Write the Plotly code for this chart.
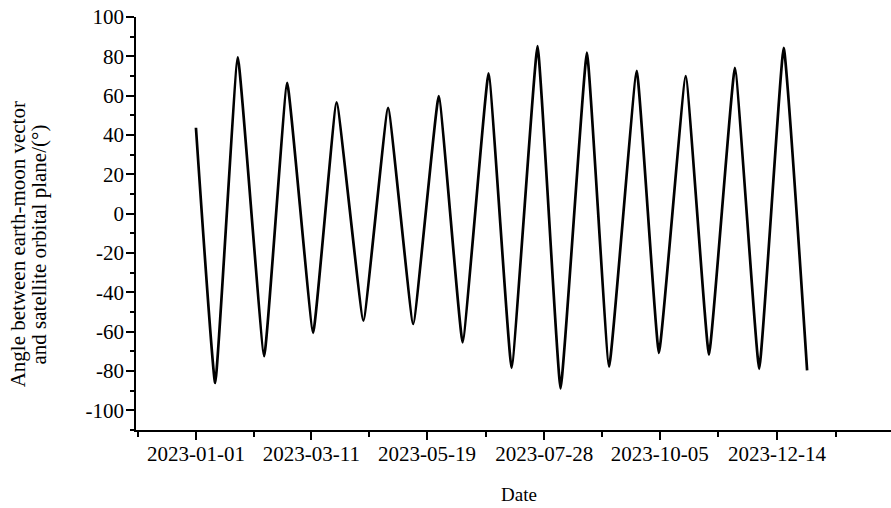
import plotly.graph_objects as go

# Turning points of the earth-moon / orbital-plane angle over 2023
dates = [
    "2023-01-01", "2023-01-12 12:00", "2023-01-26", "2023-02-10 18:00",
    "2023-02-24 12:00", "2023-03-12", "2023-03-26", "2023-04-11",
    "2023-04-25 18:00", "2023-05-10 18:00", "2023-05-26", "2023-06-09 06:00",
    "2023-06-24 18:00", "2023-07-08 12:00", "2023-07-24", "2023-08-06 18:00",
    "2023-08-22 12:00", "2023-09-04 18:00", "2023-09-21 06:00", "2023-10-04 12:00",
    "2023-10-20 12:00", "2023-11-03 09:00", "2023-11-18 21:00", "2023-12-03 09:00",
    "2023-12-18", "2024-01-01",
]
angles = [
    43.7, -86.1, 79.5, -72.5, 66.5, -60.6, 56.6, -54.4, 53.8, -56.1,
    59.8, -65.4, 71.3, -78.4, 85.2, -88.8, 81.9, -77.8, 72.6, -70.8,
    69.9, -71.7, 74.2, -78.9, 84.3, -79.7,
]

# Axis ticks
x_tick_dates = ["2023-01-01", "2023-03-11", "2023-05-19", "2023-07-28", "2023-10-05", "2023-12-14"]
x_minor_dates = ["2022-11-27 06:00", "2023-02-04 12:00", "2023-04-14 12:00", "2023-06-23",
                 "2023-08-31 12:00", "2023-11-09", "2024-01-18"]
y_tick_vals = [-100, -80, -60, -40, -20, 0, 20, 40, 60, 80, 100]
y_tick_text = [str(v) for v in y_tick_vals]

y_title_lines = ["Angle between earth-moon vector", "and satellite orbital plane/(°)"]
x_title = "Date"

FONT = "Liberation Serif, Times New Roman, serif"

fig = go.Figure(
    go.Scatter(
        x=dates,
        y=angles,
        mode="lines",
        line=dict(color="black", width=2.7, shape="spline", smoothing=0.3),
        hoverinfo="skip",
    )
)

fig.update_layout(
    width=891,
    height=508,
    margin=dict(l=136, r=0, t=17, b=78),
    paper_bgcolor="white",
    plot_bgcolor="white",
    showlegend=False,
    font=dict(family=FONT, size=21, color="black"),
    xaxis=dict(
        type="date",
        range=["2022-11-26 04:48", "2024-02-20 02:24"],
        tickmode="array",
        tickvals=x_tick_dates,
        ticktext=x_tick_dates,
        ticks="outside",
        ticklen=8,
        tickwidth=1.5,
        tickcolor="black",
        ticklabelstandoff=-4,
        showline=True,
        linecolor="black",
        linewidth=1.6,
        showgrid=False,
        zeroline=False,
        minor=dict(tickmode="array", tickvals=x_minor_dates, ticks="outside",
                   ticklen=5, tickwidth=1.5, tickcolor="black", showgrid=False),
        tickfont=dict(family=FONT, size=21),
    ),
    yaxis=dict(
        range=[-110, 100],
        tickmode="array",
        tickvals=y_tick_vals,
        ticktext=y_tick_text,
        ticks="outside",
        ticklen=8,
        tickwidth=1.5,
        tickcolor="black",
        ticklabelstandoff=-2,
        showline=True,
        linecolor="black",
        linewidth=1.6,
        showgrid=False,
        zeroline=False,
        minor=dict(dtick=10, tick0=0, ticks="outside", ticklen=4,
                   tickwidth=1.5, tickcolor="black", showgrid=False),
        tickfont=dict(family=FONT, size=21),
    ),
)

# Two-line y-axis title, each line placed on its own
for xp, text in zip([-0.156, -0.128], y_title_lines):
    fig.add_annotation(
        x=xp, y=0.45, xref="paper", yref="paper",
        text=text, textangle=-90, showarrow=False,
        xanchor="center", yanchor="middle",
        font=dict(family=FONT, size=21, color="black"),
    )

fig.add_annotation(
    x=0.507, y=-0.157, xref="paper", yref="paper",
    text=x_title, showarrow=False, xanchor="center", yanchor="middle",
    font=dict(family=FONT, size=19, color="black"),
)

fig.write_html("out.html")
